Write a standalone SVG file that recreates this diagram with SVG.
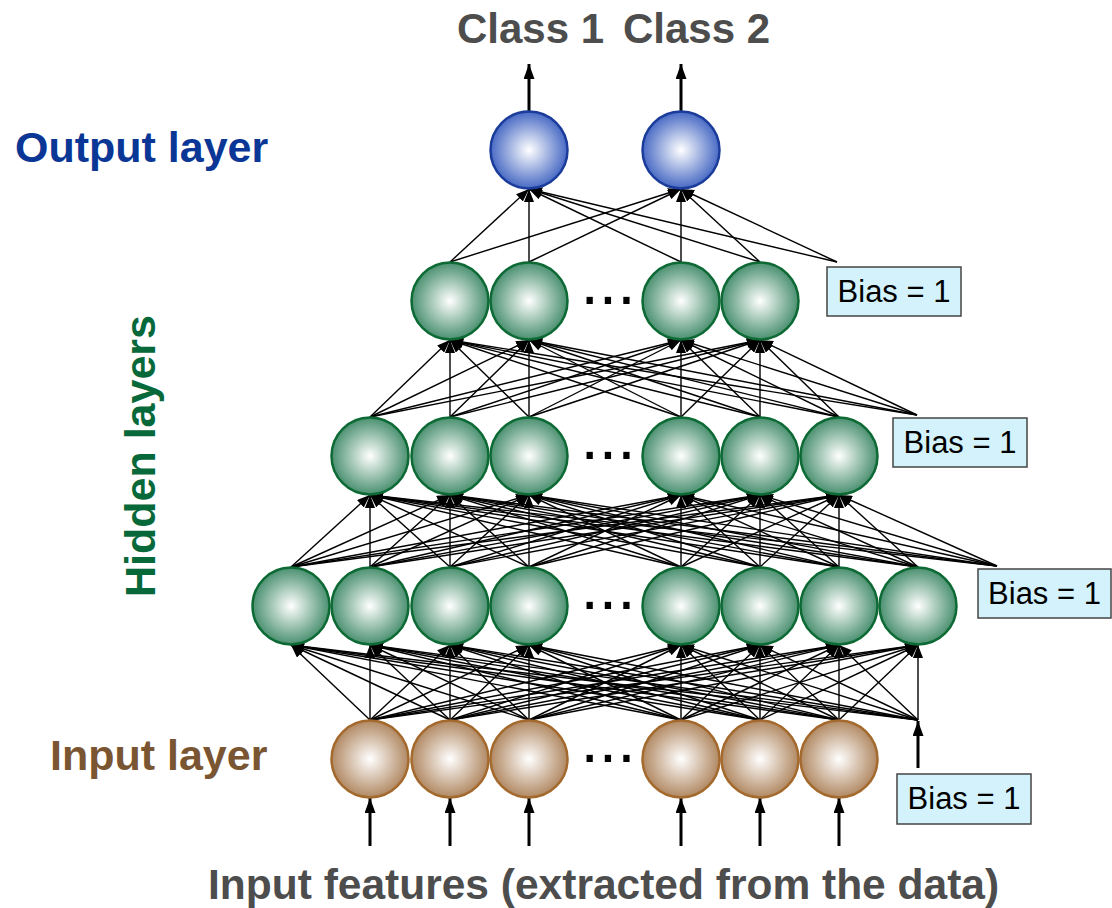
<svg xmlns="http://www.w3.org/2000/svg" width="1112" height="908" viewBox="0 0 1112 908">
  <defs>
    <radialGradient id="gGreen" cx="50%" cy="50%" r="50%">
      <stop offset="0" stop-color="#ffffff"/>
      <stop offset="1" stop-color="#4a9070"/>
    </radialGradient>
    <radialGradient id="gBlue" cx="50%" cy="50%" r="50%">
      <stop offset="0" stop-color="#ffffff"/>
      <stop offset="1" stop-color="#486ac4"/>
    </radialGradient>
    <radialGradient id="gBrown" cx="50%" cy="50%" r="50%">
      <stop offset="0" stop-color="#ffffff"/>
      <stop offset="1" stop-color="#b18963"/>
    </radialGradient>
    <marker id="ah" viewBox="0 0 13 10" refX="13" refY="5" markerWidth="13" markerHeight="10" markerUnits="userSpaceOnUse" orient="auto">
      <path d="M0,0 L13,5 L0,10 z" fill="#000"/>
    </marker>
    <marker id="ahBig" viewBox="0 0 15 11" refX="15" refY="5.5" markerWidth="15" markerHeight="11" markerUnits="userSpaceOnUse" orient="auto">
      <path d="M0,0 L15,5.5 L0,11 z" fill="#000"/>
    </marker>
  </defs>
  <style>
    .cn line { stroke:#000; stroke-width:1.4; marker-end:url(#ah); }
    .io line { stroke:#000; stroke-width:3; marker-end:url(#ahBig); }
    .green { fill:url(#gGreen); stroke:#0d6a35; stroke-width:2.5; }
    .blue { fill:url(#gBlue); stroke:#1b3c9b; stroke-width:2.5; }
    .brown { fill:url(#gBrown); stroke:#a4692d; stroke-width:2.5; }
    .bias rect { fill:#d3f2fb; stroke:#444; stroke-width:1.5; }
    .bias text { font-family:"Liberation Sans", Arial, sans-serif; font-size:31px; fill:#000; text-anchor:middle; }
    .lbl { font-family:"Liberation Sans", Arial, sans-serif; font-weight:bold; font-size:43px; }
    .dots { font-family:"Liberation Sans", Arial, sans-serif; font-size:66px; fill:#000; text-anchor:middle; }
  </style>
  <rect width="1112" height="908" fill="#ffffff"/>

  <!-- connectors: every unit feeds every unit of the next layer, plus a bias -->
  <g id="connectors">
    <g class="cn" id="hidden3-to-output">
      <line x1="450" y1="262" x2="529" y2="189"/>
      <line x1="529" y1="262" x2="529" y2="189"/>
      <line x1="681" y1="262" x2="529" y2="189"/>
      <line x1="760" y1="262" x2="529" y2="189"/>
      <line x1="837" y1="262" x2="529" y2="189"/>
      <line x1="450" y1="262" x2="681" y2="189"/>
      <line x1="529" y1="262" x2="681" y2="189"/>
      <line x1="681" y1="262" x2="681" y2="189"/>
      <line x1="760" y1="262" x2="681" y2="189"/>
      <line x1="837" y1="262" x2="681" y2="189"/>
    </g>
    <g class="cn" id="hidden2-to-hidden3">
      <line x1="370" y1="417" x2="450" y2="340"/>
      <line x1="450" y1="417" x2="450" y2="340"/>
      <line x1="529" y1="417" x2="450" y2="340"/>
      <line x1="681" y1="417" x2="450" y2="340"/>
      <line x1="760" y1="417" x2="450" y2="340"/>
      <line x1="839" y1="417" x2="450" y2="340"/>
      <line x1="917" y1="415" x2="450" y2="340"/>
      <line x1="370" y1="417" x2="529" y2="340"/>
      <line x1="450" y1="417" x2="529" y2="340"/>
      <line x1="529" y1="417" x2="529" y2="340"/>
      <line x1="681" y1="417" x2="529" y2="340"/>
      <line x1="760" y1="417" x2="529" y2="340"/>
      <line x1="839" y1="417" x2="529" y2="340"/>
      <line x1="917" y1="415" x2="529" y2="340"/>
      <line x1="370" y1="417" x2="681" y2="340"/>
      <line x1="450" y1="417" x2="681" y2="340"/>
      <line x1="529" y1="417" x2="681" y2="340"/>
      <line x1="681" y1="417" x2="681" y2="340"/>
      <line x1="760" y1="417" x2="681" y2="340"/>
      <line x1="839" y1="417" x2="681" y2="340"/>
      <line x1="917" y1="415" x2="681" y2="340"/>
      <line x1="370" y1="417" x2="760" y2="340"/>
      <line x1="450" y1="417" x2="760" y2="340"/>
      <line x1="529" y1="417" x2="760" y2="340"/>
      <line x1="681" y1="417" x2="760" y2="340"/>
      <line x1="760" y1="417" x2="760" y2="340"/>
      <line x1="839" y1="417" x2="760" y2="340"/>
      <line x1="917" y1="415" x2="760" y2="340"/>
    </g>
    <g class="cn" id="hidden1-to-hidden2">
      <line x1="291" y1="567" x2="370" y2="495"/>
      <line x1="370" y1="567" x2="370" y2="495"/>
      <line x1="450" y1="567" x2="370" y2="495"/>
      <line x1="529" y1="567" x2="370" y2="495"/>
      <line x1="681" y1="567" x2="370" y2="495"/>
      <line x1="760" y1="567" x2="370" y2="495"/>
      <line x1="839" y1="567" x2="370" y2="495"/>
      <line x1="918" y1="567" x2="370" y2="495"/>
      <line x1="997" y1="566" x2="370" y2="495"/>
      <line x1="291" y1="567" x2="450" y2="495"/>
      <line x1="370" y1="567" x2="450" y2="495"/>
      <line x1="450" y1="567" x2="450" y2="495"/>
      <line x1="529" y1="567" x2="450" y2="495"/>
      <line x1="681" y1="567" x2="450" y2="495"/>
      <line x1="760" y1="567" x2="450" y2="495"/>
      <line x1="839" y1="567" x2="450" y2="495"/>
      <line x1="918" y1="567" x2="450" y2="495"/>
      <line x1="997" y1="566" x2="450" y2="495"/>
      <line x1="291" y1="567" x2="529" y2="495"/>
      <line x1="370" y1="567" x2="529" y2="495"/>
      <line x1="450" y1="567" x2="529" y2="495"/>
      <line x1="529" y1="567" x2="529" y2="495"/>
      <line x1="681" y1="567" x2="529" y2="495"/>
      <line x1="760" y1="567" x2="529" y2="495"/>
      <line x1="839" y1="567" x2="529" y2="495"/>
      <line x1="918" y1="567" x2="529" y2="495"/>
      <line x1="997" y1="566" x2="529" y2="495"/>
      <line x1="291" y1="567" x2="681" y2="495"/>
      <line x1="370" y1="567" x2="681" y2="495"/>
      <line x1="450" y1="567" x2="681" y2="495"/>
      <line x1="529" y1="567" x2="681" y2="495"/>
      <line x1="681" y1="567" x2="681" y2="495"/>
      <line x1="760" y1="567" x2="681" y2="495"/>
      <line x1="839" y1="567" x2="681" y2="495"/>
      <line x1="918" y1="567" x2="681" y2="495"/>
      <line x1="997" y1="566" x2="681" y2="495"/>
      <line x1="291" y1="567" x2="760" y2="495"/>
      <line x1="370" y1="567" x2="760" y2="495"/>
      <line x1="450" y1="567" x2="760" y2="495"/>
      <line x1="529" y1="567" x2="760" y2="495"/>
      <line x1="681" y1="567" x2="760" y2="495"/>
      <line x1="760" y1="567" x2="760" y2="495"/>
      <line x1="839" y1="567" x2="760" y2="495"/>
      <line x1="918" y1="567" x2="760" y2="495"/>
      <line x1="997" y1="566" x2="760" y2="495"/>
      <line x1="291" y1="567" x2="839" y2="495"/>
      <line x1="370" y1="567" x2="839" y2="495"/>
      <line x1="450" y1="567" x2="839" y2="495"/>
      <line x1="529" y1="567" x2="839" y2="495"/>
      <line x1="681" y1="567" x2="839" y2="495"/>
      <line x1="760" y1="567" x2="839" y2="495"/>
      <line x1="839" y1="567" x2="839" y2="495"/>
      <line x1="918" y1="567" x2="839" y2="495"/>
      <line x1="997" y1="566" x2="839" y2="495"/>
    </g>
    <g class="cn" id="input-to-hidden1">
      <line x1="370" y1="720" x2="291" y2="645"/>
      <line x1="450" y1="720" x2="291" y2="645"/>
      <line x1="529" y1="720" x2="291" y2="645"/>
      <line x1="681" y1="720" x2="291" y2="645"/>
      <line x1="760" y1="720" x2="291" y2="645"/>
      <line x1="839" y1="720" x2="291" y2="645"/>
      <line x1="918" y1="720" x2="291" y2="645"/>
      <line x1="370" y1="720" x2="370" y2="645"/>
      <line x1="450" y1="720" x2="370" y2="645"/>
      <line x1="529" y1="720" x2="370" y2="645"/>
      <line x1="681" y1="720" x2="370" y2="645"/>
      <line x1="760" y1="720" x2="370" y2="645"/>
      <line x1="839" y1="720" x2="370" y2="645"/>
      <line x1="918" y1="720" x2="370" y2="645"/>
      <line x1="370" y1="720" x2="450" y2="645"/>
      <line x1="450" y1="720" x2="450" y2="645"/>
      <line x1="529" y1="720" x2="450" y2="645"/>
      <line x1="681" y1="720" x2="450" y2="645"/>
      <line x1="760" y1="720" x2="450" y2="645"/>
      <line x1="839" y1="720" x2="450" y2="645"/>
      <line x1="918" y1="720" x2="450" y2="645"/>
      <line x1="370" y1="720" x2="529" y2="645"/>
      <line x1="450" y1="720" x2="529" y2="645"/>
      <line x1="529" y1="720" x2="529" y2="645"/>
      <line x1="681" y1="720" x2="529" y2="645"/>
      <line x1="760" y1="720" x2="529" y2="645"/>
      <line x1="839" y1="720" x2="529" y2="645"/>
      <line x1="918" y1="720" x2="529" y2="645"/>
      <line x1="370" y1="720" x2="681" y2="645"/>
      <line x1="450" y1="720" x2="681" y2="645"/>
      <line x1="529" y1="720" x2="681" y2="645"/>
      <line x1="681" y1="720" x2="681" y2="645"/>
      <line x1="760" y1="720" x2="681" y2="645"/>
      <line x1="839" y1="720" x2="681" y2="645"/>
      <line x1="918" y1="720" x2="681" y2="645"/>
      <line x1="370" y1="720" x2="760" y2="645"/>
      <line x1="450" y1="720" x2="760" y2="645"/>
      <line x1="529" y1="720" x2="760" y2="645"/>
      <line x1="681" y1="720" x2="760" y2="645"/>
      <line x1="760" y1="720" x2="760" y2="645"/>
      <line x1="839" y1="720" x2="760" y2="645"/>
      <line x1="918" y1="720" x2="760" y2="645"/>
      <line x1="370" y1="720" x2="839" y2="645"/>
      <line x1="450" y1="720" x2="839" y2="645"/>
      <line x1="529" y1="720" x2="839" y2="645"/>
      <line x1="681" y1="720" x2="839" y2="645"/>
      <line x1="760" y1="720" x2="839" y2="645"/>
      <line x1="839" y1="720" x2="839" y2="645"/>
      <line x1="918" y1="720" x2="839" y2="645"/>
      <line x1="370" y1="720" x2="918" y2="645"/>
      <line x1="450" y1="720" x2="918" y2="645"/>
      <line x1="529" y1="720" x2="918" y2="645"/>
      <line x1="681" y1="720" x2="918" y2="645"/>
      <line x1="760" y1="720" x2="918" y2="645"/>
      <line x1="839" y1="720" x2="918" y2="645"/>
      <line x1="918" y1="720" x2="918" y2="645"/>
    </g>
    <g class="io" id="io-arrows">
      <line x1="529" y1="112" x2="529" y2="64"/>
      <line x1="681" y1="112" x2="681" y2="64"/>
      <line x1="370" y1="846" x2="370" y2="798"/>
      <line x1="450" y1="846" x2="450" y2="798"/>
      <line x1="529" y1="846" x2="529" y2="798"/>
      <line x1="681" y1="846" x2="681" y2="798"/>
      <line x1="760" y1="846" x2="760" y2="798"/>
      <line x1="839" y1="846" x2="839" y2="798"/>
      <line x1="918" y1="768" x2="918" y2="721"/>
    </g>
  </g>

  <!-- output layer -->
  <g id="out1"><circle class="blue" cx="529" cy="150" r="38.5"/></g>
  <g id="out2"><circle class="blue" cx="681" cy="150" r="38.5"/></g>

  <!-- hidden layer 3 -->
  <g id="h3-1"><circle class="green" cx="450" cy="301" r="38.5"/></g>
  <g id="h3-2"><circle class="green" cx="529" cy="301" r="38.5"/></g>
  <g id="h3-3"><circle class="green" cx="681" cy="301" r="38.5"/></g>
  <g id="h3-4"><circle class="green" cx="760" cy="301" r="38.5"/></g>

  <!-- hidden layer 2 -->
  <g id="h2-1"><circle class="green" cx="370" cy="456" r="38.5"/></g>
  <g id="h2-2"><circle class="green" cx="450" cy="456" r="38.5"/></g>
  <g id="h2-3"><circle class="green" cx="529" cy="456" r="38.5"/></g>
  <g id="h2-4"><circle class="green" cx="681" cy="456" r="38.5"/></g>
  <g id="h2-5"><circle class="green" cx="760" cy="456" r="38.5"/></g>
  <g id="h2-6"><circle class="green" cx="839" cy="456" r="38.5"/></g>

  <!-- hidden layer 1 -->
  <g id="h1-1"><circle class="green" cx="291" cy="606" r="38.5"/></g>
  <g id="h1-2"><circle class="green" cx="370" cy="606" r="38.5"/></g>
  <g id="h1-3"><circle class="green" cx="450" cy="606" r="38.5"/></g>
  <g id="h1-4"><circle class="green" cx="529" cy="606" r="38.5"/></g>
  <g id="h1-5"><circle class="green" cx="681" cy="606" r="38.5"/></g>
  <g id="h1-6"><circle class="green" cx="760" cy="606" r="38.5"/></g>
  <g id="h1-7"><circle class="green" cx="839" cy="606" r="38.5"/></g>
  <g id="h1-8"><circle class="green" cx="918" cy="606" r="38.5"/></g>

  <!-- input layer -->
  <g id="in-1"><circle class="brown" cx="370" cy="759" r="38.5"/></g>
  <g id="in-2"><circle class="brown" cx="450" cy="759" r="38.5"/></g>
  <g id="in-3"><circle class="brown" cx="529" cy="759" r="38.5"/></g>
  <g id="in-4"><circle class="brown" cx="681" cy="759" r="38.5"/></g>
  <g id="in-5"><circle class="brown" cx="760" cy="759" r="38.5"/></g>
  <g id="in-6"><circle class="brown" cx="839" cy="759" r="38.5"/></g>

  <!-- omitted units -->
  <g id="ellipses">
    <text class="dots" x="608" y="304">...</text>
    <text class="dots" x="608" y="459">...</text>
    <text class="dots" x="608" y="609">...</text>
    <text class="dots" x="608" y="762">...</text>
  </g>

  <!-- bias units -->
  <g id="bias-out" class="bias"><rect x="827" y="267" width="134" height="49"/><text x="894" y="302">Bias = 1</text></g>
  <g id="bias-h3" class="bias"><rect x="893" y="418" width="134" height="49"/><text x="960" y="453">Bias = 1</text></g>
  <g id="bias-h2" class="bias"><rect x="978" y="569" width="133" height="49"/><text x="1044.5" y="604">Bias = 1</text></g>
  <g id="bias-h1" class="bias"><rect x="897" y="774" width="134" height="50"/><text x="964" y="809">Bias = 1</text></g>

  <!-- labels -->
  <g id="labels">
    <text class="lbl" x="457" y="43" style="font-size:42px" fill="#4d4d4d">Class 1</text>
    <text class="lbl" x="623" y="43" style="font-size:42px" fill="#4d4d4d">Class 2</text>
    <text class="lbl" x="15" y="162" fill="#0a3696">Output layer</text>
    <text class="lbl" transform="translate(155,456) rotate(-90)" text-anchor="middle" fill="#07683a">Hidden layers</text>
    <text class="lbl" x="50" y="770" fill="#7a5532">Input layer</text>
    <text class="lbl" x="208" y="899" style="font-size:42.5px" fill="#4d4d4d">Input features (extracted from the data)</text>
  </g>
</svg>
